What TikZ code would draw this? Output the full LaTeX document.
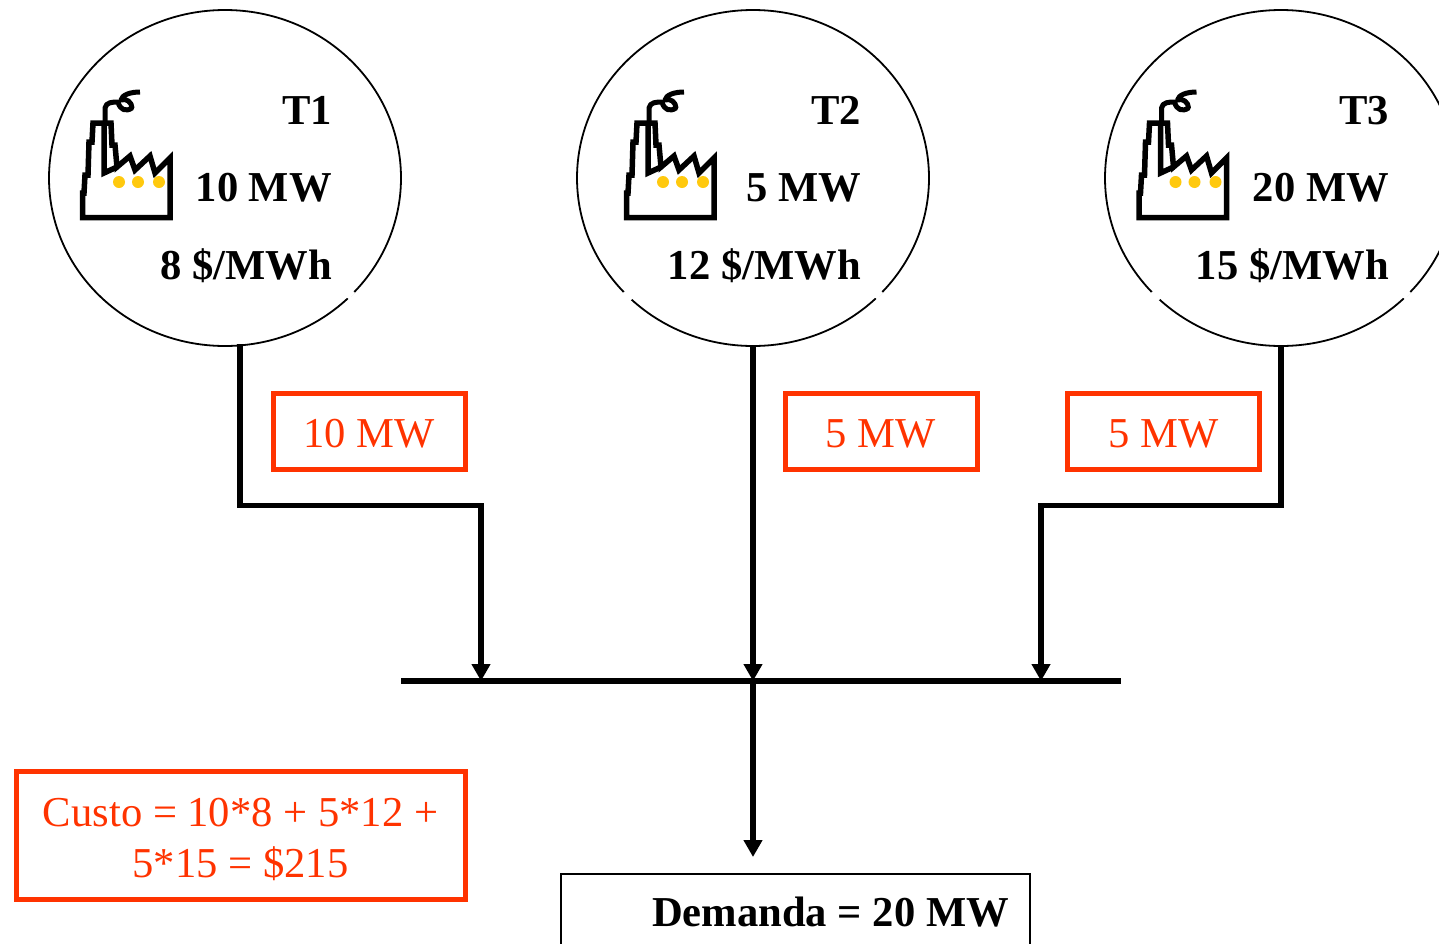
\documentclass[tikz,border=0pt]{standalone}
\usepackage{fontspec}
\setmainfont{Liberation Serif}
\usetikzlibrary{shapes.geometric,arrows.meta,calc}
\definecolor{redorange}{HTML}{FF3300}
\definecolor{dotyellow}{HTML}{FFC90E}
\tikzset{
  x=1pt,y=-1pt,
  plant/.style={draw=black,ellipse,line width=1.8pt,minimum width=352pt,minimum height=336pt,inner sep=0pt},
  wire/.style={draw=black,line width=5.2pt},
  feed/.style={wire,-{Triangle[length=17pt,width=18pt]}},
  bus/.style={draw=black,line width=5.2pt},
  flowbox/.style={draw=redorange,line width=5pt,rectangle,inner sep=0pt},
  flowtext/.style={text=redorange,font=\fontsize{42.6pt}{50pt}\selectfont,anchor=base,inner sep=0pt},
  plantlabel/.style={font=\fontsize{42.6pt}{50pt}\selectfont\bfseries,anchor=base east,inner sep=0pt},
  gap/.style={draw=white,line width=4.5pt},
  pics/factory/.style={code={
    \draw[black,line width=5.5pt,miter limit=3,fill=white]
      (2.5,-2.5) -- (90,-2.5) -- (90,-62) -- (75,-47) -- (70,-64) -- (55,-50) -- (50,-64) -- (37,-53)
      -- (35,-75) -- (32,-75) -- (31,-97) -- (13,-97) -- (12,-78) -- (9,-78) -- (8,-45) -- (5,-45) -- (4,-27) -- (2.5,-27) -- cycle;
    \draw[black,line width=5.5pt,miter limit=3]
      (24,-97) -- (24,-47) -- (37,-53);
    \draw[black,line width=5pt,line join=round]
      (25,-98) -- (25,-112) .. controls (26,-118) and (33,-118) .. (38,-118)
      .. controls (40,-110) and (46,-108) .. (52,-112)
      .. controls (52,-118) and (46,-122) .. (41,-120)
      .. controls (42,-125) and (50,-128) .. (60,-128);
    \fill[dotyellow] (39,-38) circle (6) (58,-38) circle (6) (79,-38) circle (6);
  }}
}
\begin{document}
\begin{tikzpicture}
\useasboundingbox (0,0) rectangle (1439,943);
\clip (0,0) rectangle (1439,943);
% plants
\node[plant] (t1) at (225,178) {};
\node[plant] (t2) at (753,178) {};
\node[plant] (t3) at (1281,178) {};
\draw[gap] (353.5,291.5) -- (347.5,298);
\draw[gap] (624,292) -- (631,300);
\draw[gap] (881.5,291.5) -- (875.5,298);
\draw[gap] (1152,292) -- (1159,300);
\draw[gap] (1409.5,291.5) -- (1403.5,298);
\pic at (80,220) {factory};
\pic at (624,220) {factory};
\pic at (1136.5,220) {factory};
\node[plantlabel] (t1n) at (332,124.5) {T1};
\node[plantlabel] (t1p) at (332,201) {10 MW};
\node[plantlabel] (t1c) at (332,279) {8 \$/MWh};
\node[plantlabel] (t2n) at (861,124.5) {T2};
\node[plantlabel] (t2p) at (861,201) {5 MW};
\node[plantlabel] (t2c) at (861,279) {12 \$/MWh};
\node[plantlabel] (t3n) at (1389,124.5) {T3};
\node[plantlabel] (t3p) at (1389,201) {20 MW};
\node[plantlabel] (t3c) at (1389,279) {15 \$/MWh};
% network points
\coordinate (busL) at (401,681);
\coordinate (busR) at (1121,681);
\coordinate (busA) at (481,681);
\coordinate (busB) at (753,681);
\coordinate (busC) at (1041,681);
\coordinate (t1out) at (240,344);
\coordinate (dem) at (753,857);
% connectors
\draw[feed] (t1out) |- (481,505.5) -- (busA);
\draw[feed] (t2.south) -- (busB);
\draw[feed] (t3.south) |- (1041,505.5) -- (busC);
\draw[bus] (busL) -- (busR);
\draw[feed] (busB) -- (dem);
% flow boxes
\node[flowbox,minimum width=192pt,minimum height=76pt] (f1) at (369,431.2) {};
\node[flowtext] (f1t) at (369,447) {10 MW};
\node[flowbox,minimum width=192pt,minimum height=76pt] (f2) at (881,431.2) {};
\node[flowtext] (f2t) at (881,447) {5 MW};
\node[flowbox,minimum width=192pt,minimum height=76pt] (f3) at (1163.5,431.2) {};
\node[flowtext] (f3t) at (1163.5,447) {5 MW};
\node[flowbox,minimum width=449pt,minimum height=128pt] (cost) at (241,835.5) {};
\node[flowtext] (cost1) at (240.5,826) {Custo = 10*8 + 5*12 +};
\node[flowtext] (cost2) at (240.5,877) {5*15 = \$215};
% demand
\draw[draw=black,line width=2pt] (561,950) -- (561,874) -- (1030,874) -- (1030,950);
\node[font=\fontsize{42.6pt}{50pt}\selectfont\bfseries,anchor=base,inner sep=0pt] (d) at (830.5,926) {Demanda = 20 MW};
\end{tikzpicture}
\end{document}
